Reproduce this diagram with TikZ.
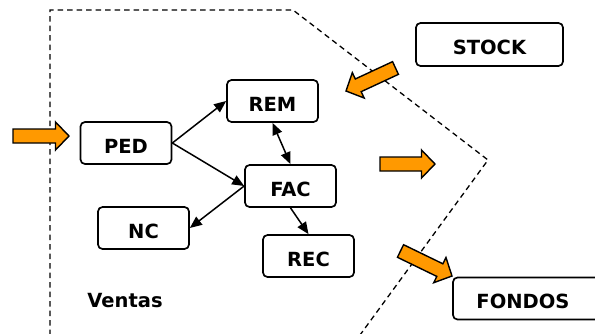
\documentclass[tikz,border=0pt]{standalone}
\usepackage{fontspec}
\setmainfont{DejaVu Sans}
\usetikzlibrary{arrows.meta,calc}
\definecolor{orangefill}{HTML}{FF9900}
\newcommand\blockarr[2]{%
  \path ($(#2)!13.5pt!(#1)$) coordinate (neck);
  \draw[orarrow] ($(#1)!7pt!90:(#2)$) -- ($(neck)!7pt!90:(#2)$) -- ($(neck)!14pt!90:(#2)$) -- (#2)
    -- ($(neck)!14pt!-90:(#2)$) -- ($(neck)!7pt!-90:(#2)$) -- ($(#1)!7pt!-90:(#2)$) -- cycle;}
\begin{document}
\begin{tikzpicture}[x=1pt,y=-1pt,
  lbl/.style={font=\fontsize{19.5}{23}\selectfont\bfseries},
  box/.style={draw, line width=1.7pt, rounded corners=4.5pt, minimum width=91pt, minimum height=42pt,
    inner sep=0pt, text height=20.2pt, text depth=0pt, lbl},
  conn/.style={line width=1.5pt, -{Triangle[length=12pt,width=10pt]}},
  orarrow/.style={draw=black, line width=1.4pt, fill=orangefill, line join=miter},
  boundary/.style={line width=1.3pt, dash pattern=on 5.5pt off 4pt}]
\useasboundingbox (0,0) rectangle (595,333);
% boundary
\coordinate (b1) at (50,335);
\coordinate (b2) at (50,10);
\coordinate (b3) at (293,10);
\coordinate (b4) at (488,160);
\coordinate (b5) at (360,335);
\draw[boundary] (b1) -- (b2) -- (b3) -- (b4) -- (b5);
% nodes
\node[box] (ped) at (126,143) {PED};
\node[box] (rem) at (272.5,101) {REM};
\node[box] (fac) at (290.5,186) {FAC};
\node[box] (nc) at (143.5,228) {NC};
\node[box] (rec) at (308.5,256) {REC};
\node[box, minimum width=147pt, minimum height=43pt] (stock) at (489.5,44.5) {STOCK};
\node[box, minimum width=160pt] (fondos) at (533,298.5) {};
\node[lbl, inner sep=0pt, anchor=base] (fondostext) at (523,308.5) {FONDOS};
\node[lbl, inner sep=0pt, anchor=base] (ventas) at (125,307) {Ventas};
% connectors
\draw[conn] (ped.east) -- (rem.west);
\draw[conn] (ped.east) -- (fac.west);
\draw[line width=1.5pt, {Triangle[length=12pt,width=10pt]}-{Triangle[length=12pt,width=10pt]}] (rem.south) -- (fac.north);
\draw[conn] (fac.west) -- (nc.east);
\draw[conn] (fac.south) -- (rec.north);
% orange block arrows
\coordinate (a1t) at (13,136);
\coordinate (a1h) at (69,136);
\coordinate (a2t) at (380,164);
\coordinate (a2h) at (435,164);
\coordinate (a3t) at (395.5,68);
\coordinate (a3h) at (346,91);
\coordinate (a4t) at (400.5,251);
\coordinate (a4h) at (452,276);
\blockarr{a1t}{a1h}
\blockarr{a2t}{a2h}
\blockarr{a3t}{a3h}
\blockarr{a4t}{a4h}
\end{tikzpicture}
\end{document}
